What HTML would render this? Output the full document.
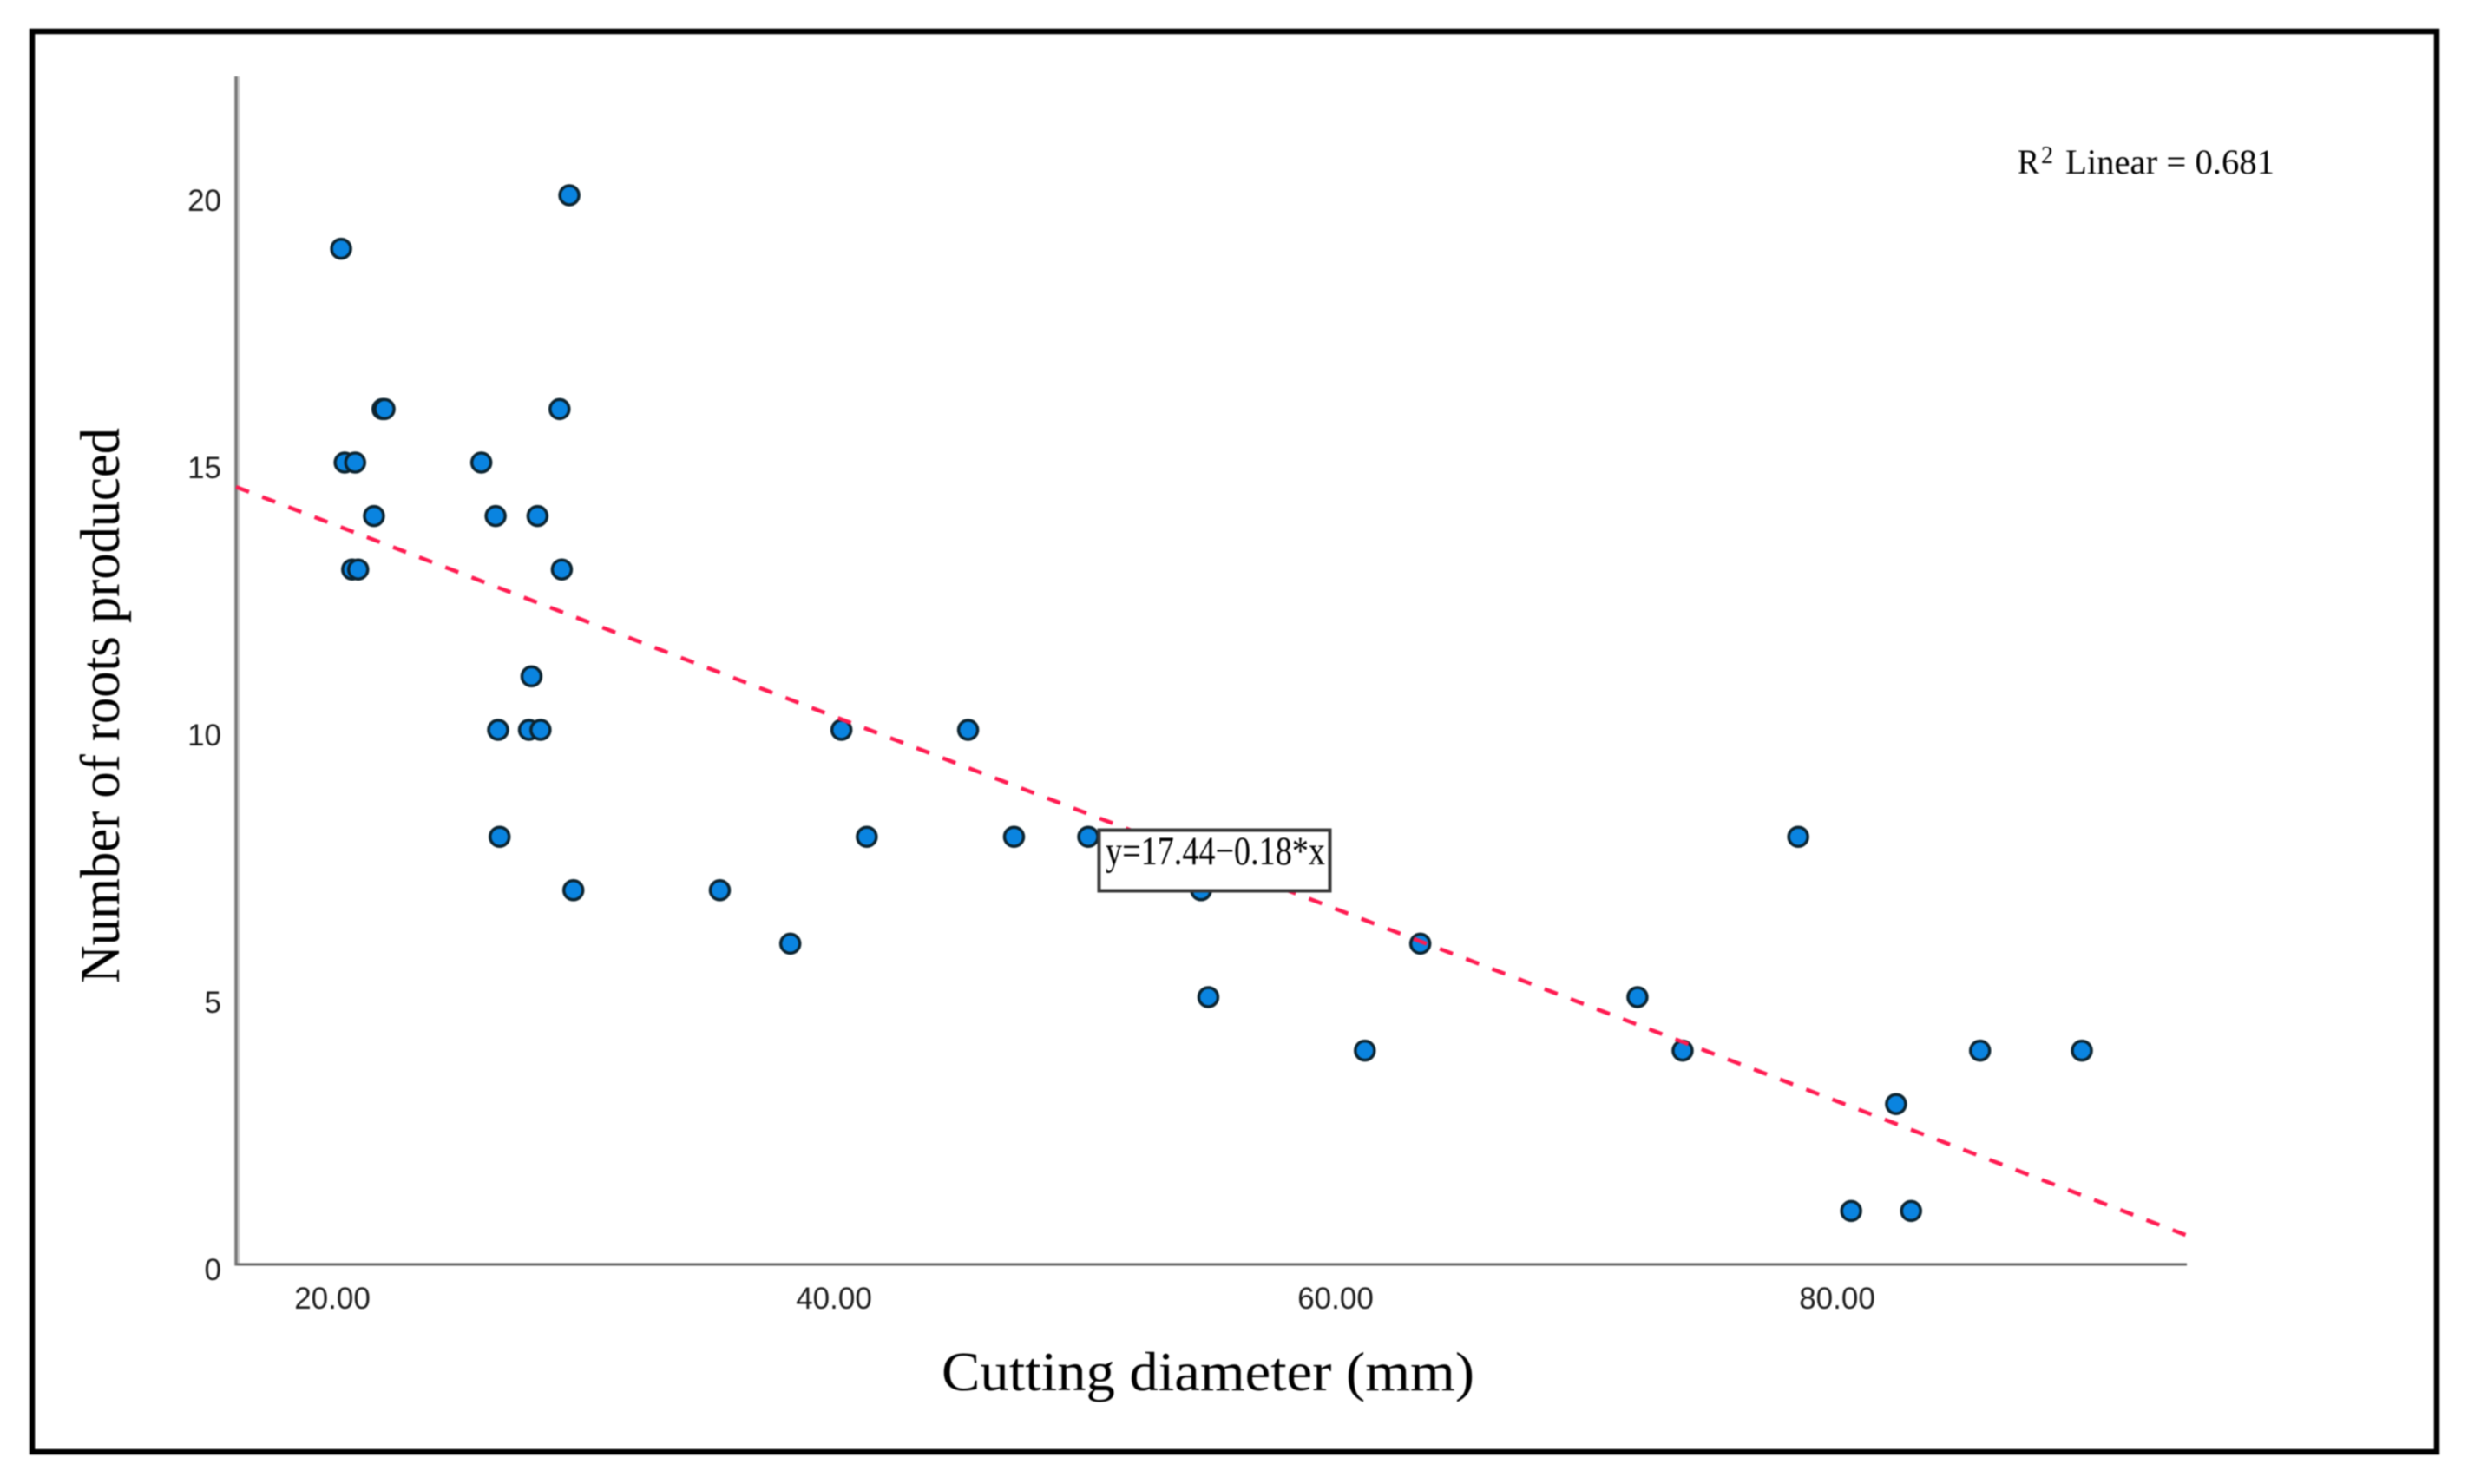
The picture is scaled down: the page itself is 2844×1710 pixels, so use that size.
<!DOCTYPE html>
<html lang="en">
<head>
<meta charset="utf-8">
<title>Number of roots produced vs cutting diameter</title>
<style>
  html, body { margin: 0; padding: 0; background: #ffffff; }
  svg { display: block; width: 2844px; height: 1710px; filter: blur(0.7px); }
  .tick { font-family: "Liberation Sans", sans-serif; font-size: 35px; fill: #1c1c1c; }
  .serif { font-family: "Liberation Serif", serif; fill: #000000; }
</style>
</head>
<body>
<svg id="chart" xmlns="http://www.w3.org/2000/svg" viewBox="0 0 2844 1710">
  <rect x="0" y="0" width="2844" height="1710" fill="#ffffff"/>
  <rect x="37" y="36" width="2771" height="1637" fill="none" stroke="#000000" stroke-width="6.5"/>
  <g id="axes"></g>
  <g id="points"></g>
  <g id="fit"></g>
  <g id="labels"></g>
  <text class="serif" font-size="65" transform="translate(137,1133) rotate(-90)" textLength="640" lengthAdjust="spacingAndGlyphs">Number of roots produced</text>
  <text class="serif" font-size="63" x="1085" y="1602" textLength="614" lengthAdjust="spacingAndGlyphs">Cutting diameter (mm)</text>
  <g>
    <text class="serif" font-size="40" x="2325" y="200" textLength="25" lengthAdjust="spacingAndGlyphs">R</text>
    <text class="serif" font-size="28" x="2352" y="188">2</text>
    <text class="serif" font-size="40" x="2380" y="200" textLength="241" lengthAdjust="spacingAndGlyphs">Linear = 0.681</text>
  </g>
  <g>
    <rect x="1266.5" y="956.5" width="266" height="70" fill="#ffffff" stroke="#3a3a3a" stroke-width="4"/>
    <text class="serif" font-size="47" x="1274" y="996" textLength="253" lengthAdjust="spacingAndGlyphs">y=17.44−0.18*x</text>
  </g>
</svg>
<script>
const diameters = [29.38, 20.28, 21.93, 22.01, 28.99, 20.42, 20.84, 25.87, 21.59, 26.44, 28.11, 20.72, 20.96, 29.08, 27.87, 26.54, 27.77, 28.23, 26.60, 29.54, 35.38, 38.19, 40.23, 45.28, 41.24, 47.11, 50.07, 54.57, 54.86, 61.10, 63.31, 71.97, 73.77, 78.38, 85.63, 89.69, 82.28, 80.49, 82.88];
const rootCounts = [20, 19, 16, 16, 16, 15, 15, 15, 14, 14, 14, 13, 13, 13, 11, 10, 10, 10, 8, 7, 7, 6, 10, 10, 8, 8, 8, 7, 5, 4, 6, 5, 4, 8, 4, 4, 3, 1, 1];
const xTickValues = [20, 40, 60, 80];
const xTickLabels = ["20.00", "40.00", "60.00", "80.00"];
const yTickValues = [0, 5, 10, 15, 20];
const yTickLabels = ["0", "5", "10", "15", "20"];
const fitIntercept = [17.44];
const fitSlope = [-0.18];

const NS = "http://www.w3.org/2000/svg";
const xScale = function (v) { return 385 + (v - 20) * 28.9; };
const yScale = function (v) { return 1457 - v * 61.6; };
const xInverse = function (px) { return 20 + (px - 385) / 28.9; };
const fitAt = function (v) { return fitIntercept[0] + fitSlope[0] * v; };

function make(tag, parent, attrs) {
  const el = document.createElementNS(NS, tag);
  for (const k in attrs) { el.setAttribute(k, attrs[k]); }
  parent.appendChild(el);
  return el;
}

const axes = document.getElementById("axes");
const plotLeft = 272, plotRight = 2520, plotTop = 88;

const yAxisShade = make("line", axes, { x1: plotLeft + 3, y1: plotTop, x2: plotLeft + 3, y2: yScale(0), stroke: "#cfcfcf", "stroke-width": 3 });



const yAxis = make("line", axes, { x1: plotLeft, y1: plotTop, x2: plotLeft, y2: yScale(0) + 1.5, stroke: "#777777", "stroke-width": 3.5 });



const xAxis = make("line", axes, { x1: plotLeft, y1: yScale(0), x2: plotRight, y2: yScale(0), stroke: "#666666", "stroke-width": 3 });



const pointsLayer = document.getElementById("points");
diameters.forEach(function (d, i) {
  const c = make("circle", pointsLayer, { cx: xScale(d), cy: yScale(rootCounts[i]), r: 11, fill: "#0a84e0", stroke: "#0c2430", "stroke-width": 3.5 });
  
  
});

const fitLayer = document.getElementById("fit");
const fitLine = make("line", fitLayer, {
  x1: plotLeft, y1: yScale(fitAt(xInverse(plotLeft))),
  x2: plotRight, y2: yScale(fitAt(xInverse(plotRight))),
  stroke: "#ff1a50", "stroke-width": 4.5, "stroke-dasharray": "16 16.3"
});



const labels = document.getElementById("labels");
xTickValues.forEach(function (v, i) {
  const t = make("text", labels, { x: xScale(v) - 2, y: 1508, class: "tick", "text-anchor": "middle" });
  t.textContent = xTickLabels[i];
  
  
});
yTickValues.forEach(function (v, i) {
  const t = make("text", labels, { x: 255, y: yScale(v) + 18, class: "tick", "text-anchor": "end" });
  t.textContent = yTickLabels[i];
  
  
});
</script>
</body>
</html>
